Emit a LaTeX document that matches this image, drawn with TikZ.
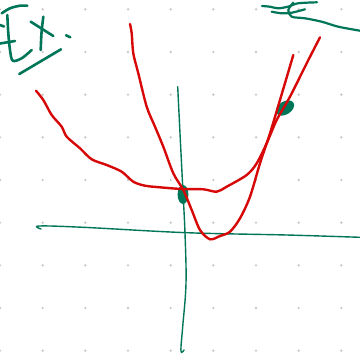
\documentclass[tikz,border=0pt]{standalone}
\usetikzlibrary{calc}
\definecolor{inkred}{RGB}{214,8,8}
\definecolor{inkgreen}{RGB}{0,118,88}
\definecolor{dotgray}{RGB}{200,200,200}
\tikzset{
  redink/.style={draw=inkred, line width=2.4pt, line cap=round, line join=round},
  axisink/.style={draw=inkgreen, line width=1.4pt, line cap=round, line join=round},
  penink/.style={draw=inkgreen, line width=2.6pt, line cap=round, line join=round},
  gdot/.style={fill=dotgray}
}
\begin{document}
\begin{tikzpicture}[x=1pt,y=-1pt]
\useasboundingbox (0,0) rectangle (360,354);
\fill[white] (0,0) rectangle (360,354);
% dot grid
\foreach \i in {0,...,8}{
  \foreach \j in {0,...,8}{
    \fill[gdot] ({42.67*\i},{9.3+42.67*\j}) circle (1.3pt);
  }
}
% axes
\draw[axisink] plot[smooth, tension=0.6] coordinates {(41,229) (39.3,226) (83.3,227.3) (186.7,232.7) (286.7,235) (360,237.3)};
\draw[axisink] plot[smooth, tension=0.6] coordinates {(177.7,86.7) (180,133.3) (182.7,186.7) (185,233.3) (186,283.3) (182.7,326.7) (181,346.7) (181.5,352.5) (184,350)};
% intersection blobs (under the red curves)
\fill[inkgreen] (183,194.5) ellipse [x radius=5.4pt, y radius=9.5pt];
\fill[inkgreen, rotate around={32:(285,108)}] (285,108) ellipse [x radius=10pt, y radius=6.5pt];
% wide parabola
\draw[redink] plot[smooth, tension=0.5] coordinates {(36,90.7) (43.3,100) (51.7,115) (61.7,126.7) (66.7,136.7) (80,148.3) (91.7,159.3) (106.7,165) (121.7,171.7) (133.3,181.7) (145,185.7) (160,187.3) (181.7,189) (203.3,189.3) (216.7,191.7) (226.7,186.7) (246.7,175) (256.7,163.3) (266.7,143.3) (276.7,120) (290,96.7) (306.7,63.3) (320,37.3)};
% narrow parabola
\draw[redink] plot[smooth, tension=0.5] coordinates {(130,24) (131.7,33.3) (133.3,53.3) (138.3,73.3) (146.7,106.7) (155,126.7) (163.3,146.7) (173.3,173.3) (183.3,190) (191.7,210) (200,230) (210,239.3) (220,236) (230,231.7) (240,218.3) (250,196.7) (260,163.3) (270,133.3) (280,100) (293.3,55)};
% "Ex." handwriting
\draw[penink] plot[smooth] coordinates {(1.7,13.3) (10,8.3) (20,5.7) (27.3,5.7)};
\draw[penink] plot[smooth] coordinates {(7.3,15) (8.3,33.3) (10,50) (12.7,60.7) (21.7,58.3) (31.7,50)};
\draw[penink] (0,43.5) -- (15,41);
\draw[penink] (0,25) -- (4,26.5);
\draw[penink] (30.7,21.7) -- (53.3,36);
\draw[penink] plot[smooth] coordinates {(43.3,16.7) (41.5,33) (40.7,50)};
\draw[penink] (66,35.3) -- (70.3,37.3);
\draw[penink] (19.3,74) -- (61,49.3);
% "E" top right
\draw[axisink, line width=2.2pt] plot[smooth] coordinates {(262,6) (270,6.7) (278,8.3) (288,6.7) (298,3.3) (317,2.3)};
\draw[axisink, line width=2.2pt] plot[smooth] coordinates {(271.7,11.7) (281.7,13.3) (291.7,12.7) (305,9.3)};
\draw[axisink, line width=2.2pt] plot[smooth] coordinates {(293.3,2.7) (288.3,10) (291.7,16.7) (305,18.3) (321.7,21.7) (338.3,26.7) (360,30.7)};
\end{tikzpicture}
\end{document}
